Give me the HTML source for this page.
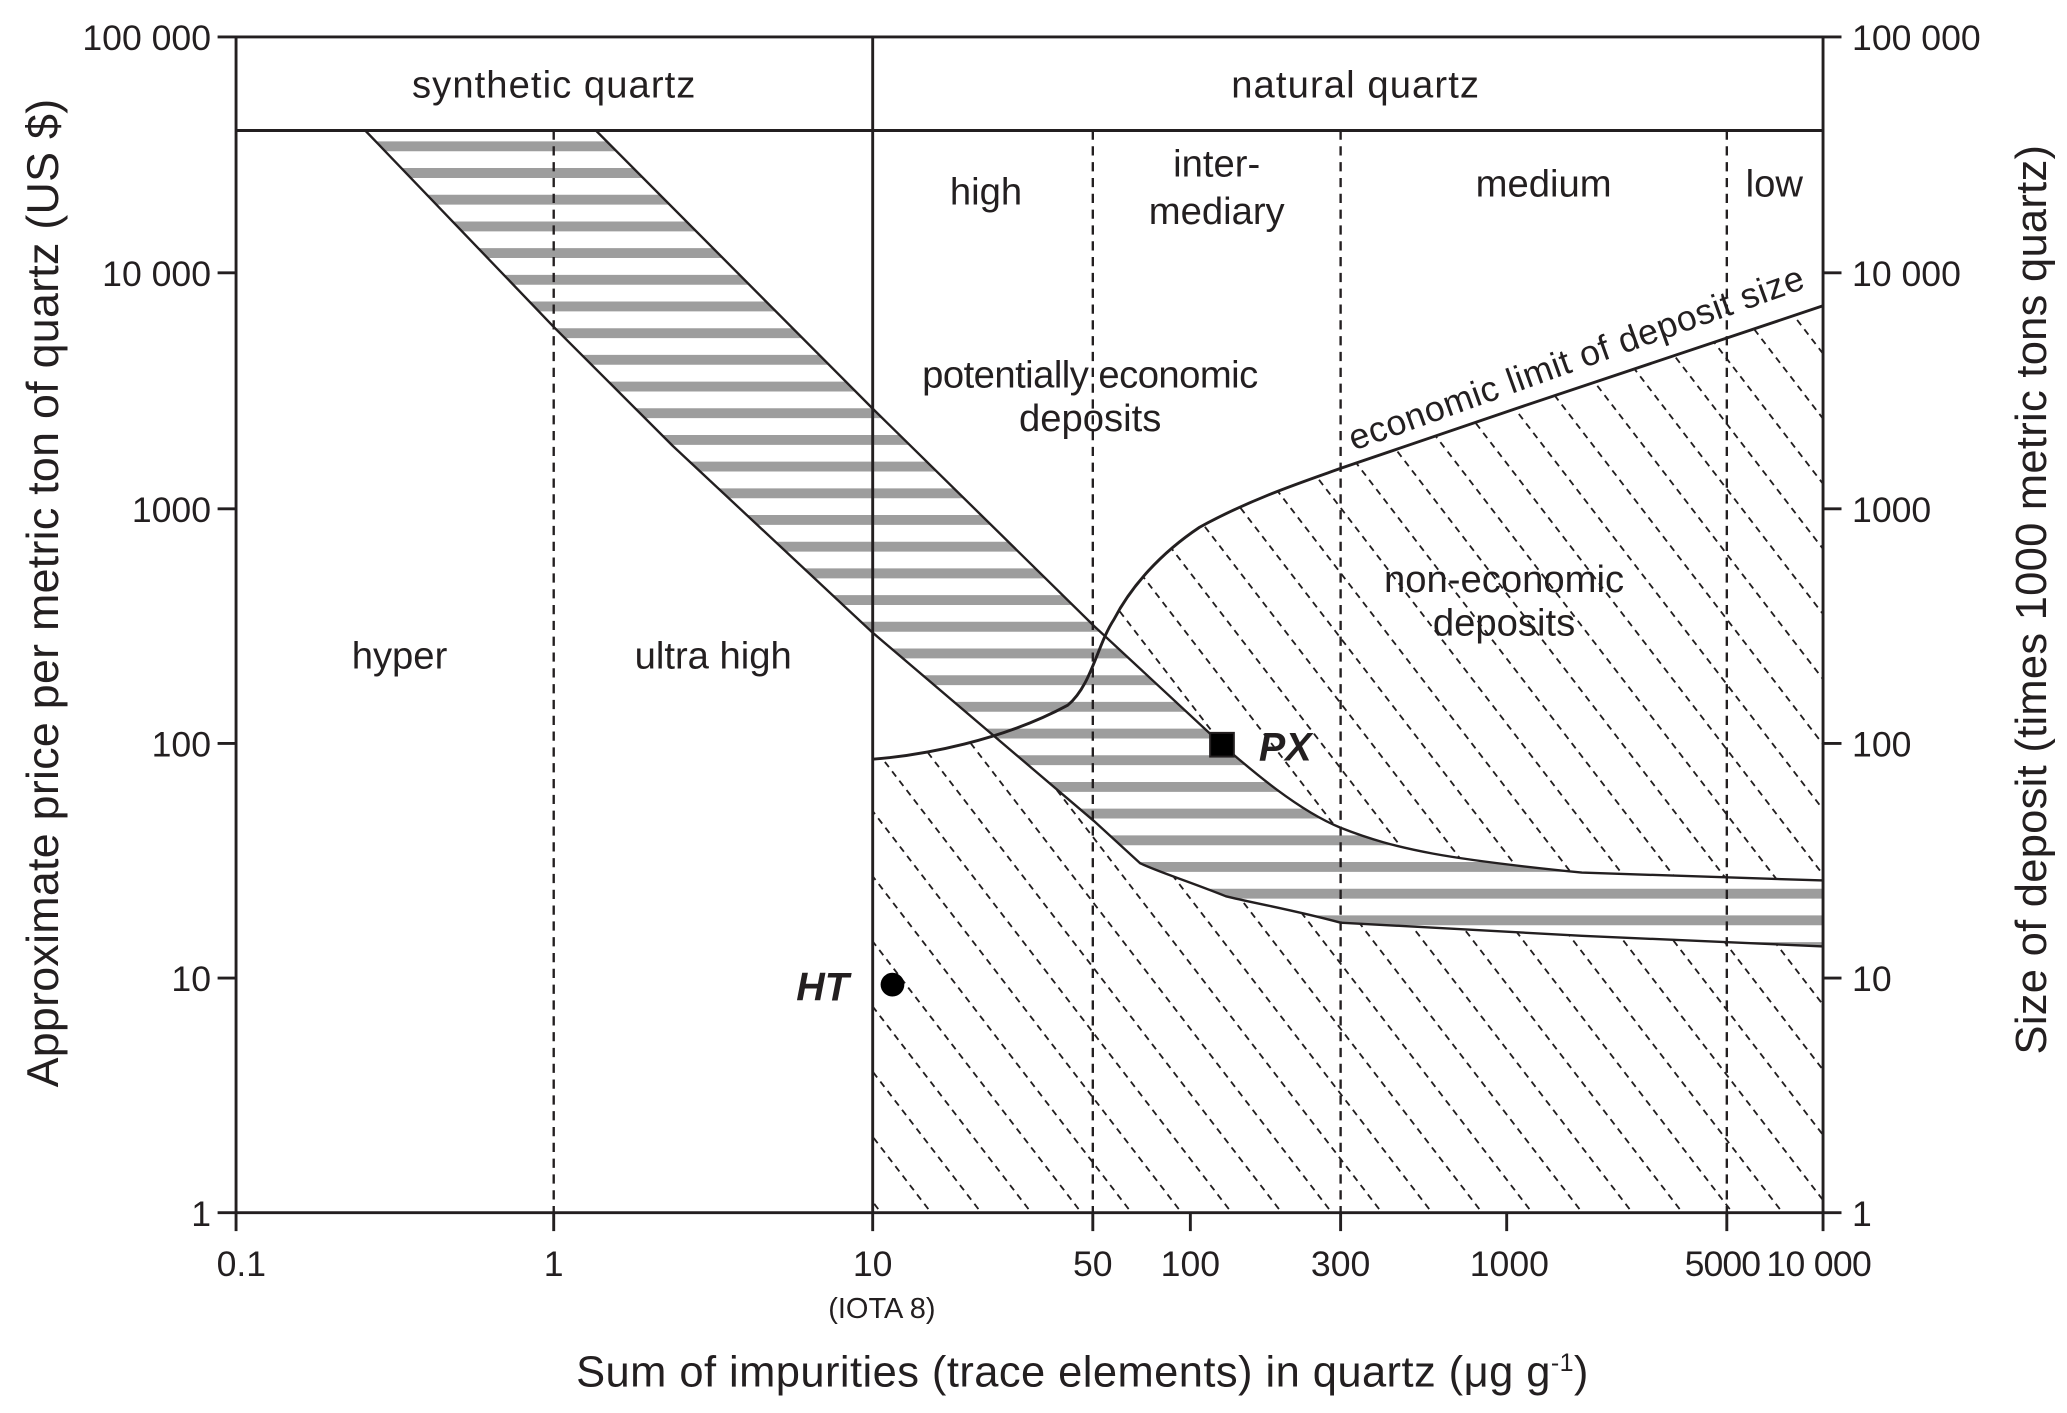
<!DOCTYPE html>
<html><head><meta charset="utf-8"><style>
html,body{margin:0;padding:0;background:#fff;overflow:hidden;width:2067px;height:1413px}
svg{display:block}
text{font-family:"Liberation Sans",Arial,sans-serif;fill:#231f20}
</style></head><body>
<svg id="s" width="2067" height="1413" viewBox="0 0 1568 1072" xmlns="http://www.w3.org/2000/svg">
<defs>
<clipPath id="hc"><path d="M662,576 C700,573 760,562 810,535 C828,520 832,490 845,470 C858,445 880,420 910,400 C950,378 990,365 1018,355 L1150,310 L1383,232 L1383,920 L662,920 Z"/></clipPath>
<clipPath id="bc"><path d="M452,99 L662,310 L830,475 L927,565 C950,585 985,615 1017,628 C1060,645 1100,652 1200,662 L1383,668 L1383,718 L1200,710 L1017,700 C980,690 950,685 930,680 C900,668 880,662 865,655 L830,623 L662,480 L510,338 L420,248 L277,99 Z"/></clipPath>
</defs>
<g id="hatch" clip-path="url(#hc)" stroke="#231f20" stroke-width="1.4" stroke-dasharray="5,4" fill="none"></g>
<path d="M452,99 L662,310 L830,475 L927,565 C950,585 985,615 1017,628 C1060,645 1100,652 1200,662 L1383,668 L1383,718 L1200,710 L1017,700 C980,690 950,685 930,680 C900,668 880,662 865,655 L830,623 L662,480 L510,338 L420,248 L277,99 Z" fill="#fff"/>
<g id="stripes" clip-path="url(#bc)" stroke="#9d9d9d" stroke-width="7.5"></g>
<g stroke="#231f20" stroke-width="1.8" stroke-dasharray="7,5">
<line x1="420" y1="99" x2="420" y2="920"/>
<line x1="829" y1="99" x2="829" y2="920"/>
<line x1="1017" y1="99" x2="1017" y2="920"/>
<line x1="1310" y1="99" x2="1310" y2="920"/>
</g>
<g fill="none" stroke="#231f20" stroke-width="1.8">
<path d="M452,99 L662,310 L830,475 L927,565 C950,585 985,615 1017,628 C1060,645 1100,652 1200,662 L1383,668"/>
<path d="M277,99 L420,248 L510,338 L662,480 L830,623 L865,655 C880,662 900,668 930,680 C950,685 980,690 1017,700 L1200,710 L1383,718"/>
<path d="M662,576 C700,573 760,562 810,535 C828,520 832,490 845,470 C858,445 880,420 910,400 C950,378 990,365 1018,355 L1150,310 L1383,232" stroke-width="2.2"/>
</g>
<g stroke="#231f20" stroke-width="2.2" fill="none">
<line x1="165" y1="28" x2="1397" y2="28"/>
<line x1="179" y1="99" x2="1383" y2="99"/>
<line x1="179" y1="28" x2="179" y2="920"/>
<line x1="1383" y1="28" x2="1383" y2="934"/>
<line x1="662" y1="28" x2="662" y2="934"/>
<line x1="165" y1="920" x2="1397" y2="920"/>
<line x1="165" y1="207" x2="179" y2="207"/><line x1="165" y1="386" x2="179" y2="386"/>
<line x1="165" y1="564" x2="179" y2="564"/><line x1="165" y1="742" x2="179" y2="742"/>
<line x1="1383" y1="207" x2="1397" y2="207"/><line x1="1383" y1="386" x2="1397" y2="386"/>
<line x1="1383" y1="564" x2="1397" y2="564"/><line x1="1383" y1="742" x2="1397" y2="742"/>
<line x1="179" y1="920" x2="179" y2="934"/><line x1="420" y1="920" x2="420" y2="934"/>
<line x1="829" y1="920" x2="829" y2="934"/><line x1="903" y1="920" x2="903" y2="934"/>
<line x1="1017" y1="920" x2="1017" y2="934"/><line x1="1143" y1="920" x2="1143" y2="934"/>
<line x1="1310" y1="920" x2="1310" y2="934"/>
</g>
<rect x="918" y="556" width="18" height="18" fill="#000" stroke="#231f20" stroke-width="1.5"/>
<circle cx="677" cy="747" r="9" fill="#000"/>
<text x="955" y="577" font-size="30" font-weight="bold" font-style="italic">PX</text>
<text x="604" y="759" font-size="30" font-weight="bold" font-style="italic">HT</text>
<g font-size="29" text-anchor="middle">
<text x="420" y="74" textLength="215">synthetic quartz</text>
<text x="1028" y="74" textLength="188">natural quartz</text>
<text x="748" y="155">high</text>
<text x="923" y="134">inter-</text>
<text x="923" y="170">mediary</text>
<text x="1171" y="149">medium</text>
<text x="1346" y="149">low</text>
<text x="827" y="294" textLength="255">potentially economic</text>
<text x="827" y="327">deposits</text>
<text x="1141" y="449">non-economic</text>
<text x="1141" y="482">deposits</text>
<text x="303" y="507">hyper</text>
<text x="541" y="507">ultra high</text>
</g>
<text x="1027" y="342" font-size="27" textLength="365" transform="rotate(-19.8 1027 342)">economic limit of deposit size</text>
<g font-size="27" text-anchor="end">
<text x="160" y="38">100 000</text><text x="160" y="217">10 000</text>
<text x="160" y="396">1000</text><text x="160" y="574">100</text>
<text x="160" y="752">10</text><text x="160" y="930">1</text>
</g>
<g font-size="27" text-anchor="start">
<text x="1405" y="38">100 000</text><text x="1405" y="217">10 000</text>
<text x="1405" y="396">1000</text><text x="1405" y="574">100</text>
<text x="1405" y="752">10</text><text x="1405" y="930">1</text>
</g>
<g font-size="27" text-anchor="middle">
<text x="183" y="968">0.1</text><text x="420" y="968">1</text><text x="662" y="968">10</text>
<text x="829" y="968">50</text><text x="903" y="968">100</text><text x="1017" y="968">300</text>
<text x="1145" y="968">1000</text>
</g>
<text x="1278" y="968" font-size="27" textLength="58">5000</text>
<text x="1340" y="968" font-size="27" textLength="80">10 000</text>
<text x="669" y="1000" font-size="22" text-anchor="middle">(IOTA 8)</text>
<text x="437" y="1052" font-size="33" textLength="768">Sum of impurities (trace elements) in quartz (μg g<tspan font-size="19" dy="-12">-1</tspan><tspan dy="12">)</tspan></text>
<text x="0" y="0" font-size="34" text-anchor="middle" textLength="750" transform="translate(44 450) rotate(-90)">Approximate price per metric ton of quartz (US $)</text>
<text x="0" y="0" font-size="33" text-anchor="middle" textLength="690" transform="translate(1552 455) rotate(-90)">Size of deposit (times 1000 metric tons quartz)</text>
</svg>
<script>
var NS="http://www.w3.org/2000/svg";
var h=document.getElementById("hatch");
var slope=1.3;
for(var c=0;c<1420;c+=38){
  var l=document.createElementNS(NS,"line");
  l.setAttribute("x1",c);l.setAttribute("y1",150);
  l.setAttribute("x2",c+850/slope);l.setAttribute("y2",1000);
  h.appendChild(l);
}
var s=document.getElementById("stripes");
for(var y=718.5;y>100;y-=20.25){
  var l=document.createElementNS(NS,"line");
  l.setAttribute("x1",250);l.setAttribute("x2",1390);
  l.setAttribute("y1",y);l.setAttribute("y2",y);
  s.appendChild(l);
}
</script>
</body></html>
